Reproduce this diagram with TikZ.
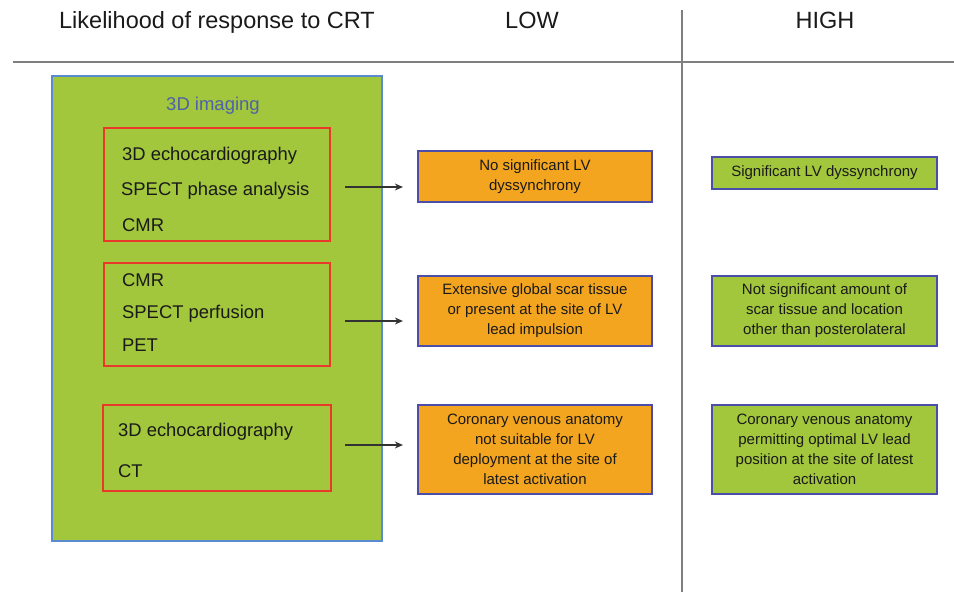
\documentclass[tikz,border=0pt]{standalone}
\usepackage{fontspec}
\setmainfont{Liberation Sans}
\usetikzlibrary{arrows.meta}
\definecolor{gfill}{HTML}{A2C63C}
\definecolor{obox}{HTML}{F4A51F}
\definecolor{bblue}{HTML}{5A8AD0}
\definecolor{pborder}{HTML}{4A4EA8}
\definecolor{rborder}{HTML}{E8392A}
\definecolor{imgtxt}{HTML}{4F61A8}
\definecolor{txt}{HTML}{1A1A1A}
\definecolor{rule}{HTML}{7F7F7F}
\definecolor{arrc}{HTML}{333333}
\begin{document}
\begin{tikzpicture}[x=1pt,y=-1pt,
  hdr/.style={font=\fontsize{23.5}{28}\selectfont, text=txt, inner sep=0pt, anchor=base},
  bigbox/.style={draw=bblue, line width=2pt, fill=gfill, inner sep=0pt},
  redbox/.style={draw=rborder, line width=2.2pt, inner sep=0pt},
  item/.style={font=\fontsize{18.4}{22}\selectfont, text=txt, anchor=base west, inner sep=0pt},
  resbox/.style={draw=pborder, line width=2.2pt, inner sep=0pt, align=center,
    font=\fontsize{15}{20}\selectfont, text=txt},
  lowbox/.style={resbox, fill=obox},
  highbox/.style={resbox, fill=gfill},
  arr/.style={-{Stealth[length=8pt,width=7pt]}, line width=1.1pt, draw=arrc}
]
\useasboundingbox (0,0) rectangle (954,592);
\fill[white] (0,0) rectangle (954,592);

% headers
\node[hdr] (h1) at (217,28.5) {Likelihood of response to CRT};
\node[hdr] (h2) at (532,28.5) {LOW};
\node[hdr] (h3) at (825,28.5) {HIGH};
\coordinate (hl1) at (13,62);
\coordinate (hl2) at (954,62);
\coordinate (vl1) at (682,10);
\coordinate (vl2) at (682,592);
\draw[rule, line width=1.4pt] (hl1) -- (hl2);
\draw[rule, line width=1.4pt] (vl1) -- (vl2);

% big 3D imaging box
\node[bigbox, minimum width=330pt, minimum height=465pt] (big) at (217,308.5) {};
\node[font=\fontsize{18.5}{22}\selectfont, text=imgtxt, inner sep=0pt, anchor=base] (imgt) at (213,110) {3D imaging};

% red boxes
\node[redbox, minimum width=226pt, minimum height=113pt] (r1) at (217,184.5) {};
\node[item] (r1a) at (122,160.5) {3D echocardiography};
\node[item] (r1b) at (121,195) {SPECT phase analysis};
\node[item] (r1c) at (122,231.5) {CMR};

\node[redbox, minimum width=226pt, minimum height=103pt] (r2) at (217,314.5) {};
\node[item] (r2a) at (122,286.5) {CMR};
\node[item] (r2b) at (122,318) {SPECT perfusion};
\node[item] (r2c) at (122,351.5) {PET};

\node[redbox, minimum width=228pt, minimum height=86pt] (r3) at (217,448) {};
\node[item] (r3a) at (118,436) {3D echocardiography};
\node[item] (r3b) at (118,477.5) {CT};

% LOW boxes
\node[lowbox, minimum width=234pt, minimum height=51pt] (o1) at (535,176.5)
  {No significant LV\\dyssynchrony};
\node[lowbox, minimum width=234pt, minimum height=70pt] (o2) at (535,311)
  {Extensive global scar tissue\\or present at the site of LV\\lead impulsion};
\node[lowbox, minimum width=234pt, minimum height=89pt] (o3) at (535,449.5)
  {Coronary venous anatomy\\not suitable for LV\\deployment at the site of\\latest activation};

% HIGH boxes
\node[highbox, minimum width=225pt, minimum height=32pt] (g1) at (824.5,173)
  {Significant LV dyssynchrony};
\node[highbox, minimum width=225pt, minimum height=70pt] (g2) at (824.5,311)
  {Not significant amount of\\scar tissue and location\\other than posterolateral};
\node[highbox, minimum width=225pt, minimum height=89pt] (g3) at (824.5,449.5)
  {Coronary venous anatomy\\permitting optimal LV lead\\position at the site of latest\\activation};

% arrows
\draw[arr, shorten >=14pt] ([xshift=14pt,yshift=-2.5pt]r1.east) -- ([yshift=-2.5pt]r1.east -| o1.west);
\draw[arr, shorten >=14pt] ([xshift=14pt,yshift=-6.5pt]r2.east) -- ([yshift=-6.5pt]r2.east -| o2.west);
\draw[arr, shorten >=14pt] ([xshift=13pt,yshift=3pt]r3.east) -- ([yshift=3pt]r3.east -| o3.west);
\end{tikzpicture}
\end{document}
